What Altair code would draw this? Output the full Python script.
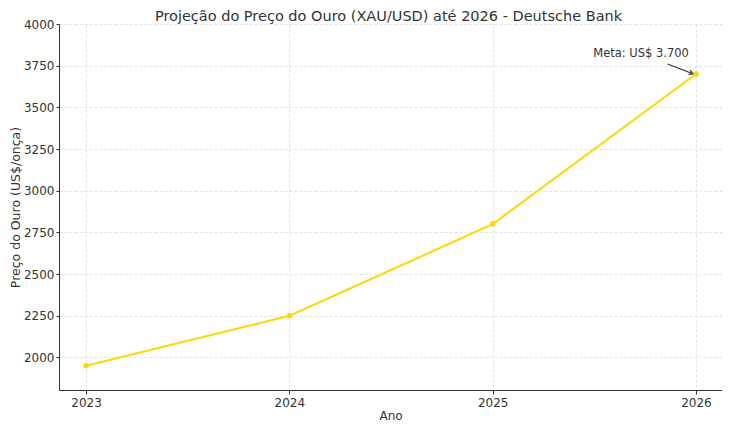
import altair as alt
import pandas as pd

anos = [2023, 2024, 2025, 2026]
precos = [1950, 2250, 2800, 3700]
y_ticks = [2000, 2250, 2500, 2750, 3000, 3250, 3500, 3750, 4000]

titulo = ["Projeção do Preço do Ouro (XAU/USD) até 2026 - Deutsche Bank"]
anot_texto = ["Meta: US$ 3.700"]
anot_x = [2025.73]
anot_y = [3822]
seta_x = [2025.86]
seta_y = [3760]
seta_x2 = [2025.985]
seta_y2 = [3702]

df = pd.DataFrame({"Ano": anos, "Preco": precos})
txt_df = pd.DataFrame({"x": anot_x, "y": anot_y, "t": anot_texto})
arrow_df = pd.DataFrame({"x": seta_x, "y": seta_y, "x2": seta_x2, "y2": seta_y2})
title_df = pd.DataFrame({"t": titulo})

FONT = "DejaVu Sans"
W, H = 663, 366
xs = alt.Scale(domain=[2022.867, 2026.128], nice=False, zero=False)
ys = alt.Scale(domain=[1805, 4000], nice=False, zero=False)

x_axis = alt.Axis(values=anos, format="d", title="Ano", grid=True,
                  gridDash=[3, 2], gridColor="#e2e2e2", labelFontSize=12,
                  titleFontSize=12, titleFontWeight="normal", labelColor="#333",
                  titleColor="#333", domainColor="#333", tickColor="#333",
                  tickSize=4, labelPadding=3, titlePadding=2, labelFont=FONT,
                  titleFont=FONT)
y_axis = alt.Axis(values=y_ticks, format="d", title="Preço do Ouro (US$/onça)", grid=True,
                  gridDash=[3, 2], gridColor="#e2e2e2", labelFontSize=12,
                  titleFontSize=12.5, titleFontWeight="normal", labelColor="#333",
                  titleColor="#333", domainColor="#333", tickColor="#333",
                  tickSize=3, labelPadding=2, titlePadding=1, labelFont=FONT,
                  titleFont=FONT)

line = alt.Chart(df).mark_line(color="#FFD700", strokeWidth=2).encode(
    x=alt.X("Ano:Q", scale=xs, axis=x_axis),
    y=alt.Y("Preco:Q", scale=ys, axis=y_axis),
)
pts = alt.Chart(df).mark_point(color="#FFD700", filled=True, size=30, opacity=1).encode(
    x=alt.X("Ano:Q", scale=xs),
    y=alt.Y("Preco:Q", scale=ys),
)
arrow = alt.Chart(arrow_df).mark_rule(color="#333", strokeWidth=1.2).encode(
    x=alt.X("x:Q", scale=xs), y=alt.Y("y:Q", scale=ys),
    x2="x2:Q", y2="y2:Q",
)
head = alt.Chart(arrow_df).mark_point(
    shape="M -1 -0.6 L 0 0 L -1 0.6", filled=False, color="#333",
    strokeWidth=1.2, size=60, angle=22, opacity=1,
).encode(x=alt.X("x2:Q", scale=xs), y=alt.Y("y2:Q", scale=ys))
txt = alt.Chart(txt_df).mark_text(font=FONT, fontSize=11.5, color="#333").encode(
    x=alt.X("x:Q", scale=xs), y=alt.Y("y:Q", scale=ys), text="t:N",
)
title_mark = alt.Chart(title_df).mark_text(
    font=FONT, fontSize=14.5, color="#333", align="center", baseline="alphabetic",
).encode(x=alt.value(W / 2 - 2), y=alt.value(-3), text="t:N")

chart = alt.layer(line, pts, arrow, head, txt, title_mark).properties(
    width=W, height=H,
    autosize=alt.AutoSizeParams(type="none"),
    padding={"left": 51, "top": 16, "right": 0, "bottom": 34},
).configure_view(stroke=None).configure_axisX(domainWidth=1).configure_axisY(domainWidth=1)

chart.save("out.html", embed_options={"renderer": "svg", "actions": False})
